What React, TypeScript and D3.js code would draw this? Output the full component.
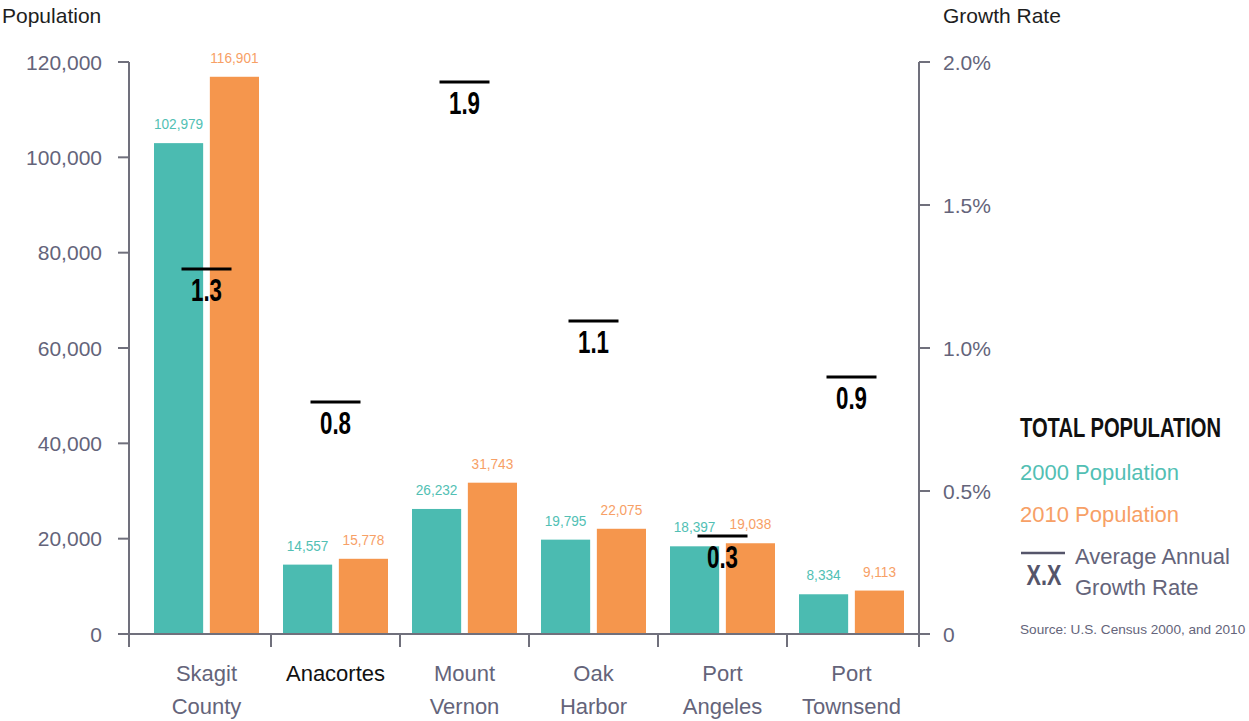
import React from "react";
import * as d3 from "d3";

const categories = ["Skagit County", "Anacortes", "Mount Vernon", "Oak Harbor", "Port Angeles", "Port Townsend"];
const pop2000 = [102979, 14557, 26232, 19795, 18397, 8334];
const pop2010 = [116901, 15778, 31743, 22075, 19038, 9113];
const growthRate = [1.276, 0.811, 1.93, 1.094, 0.343, 0.899];
const popTicks = [0, 20000, 40000, 60000, 80000, 100000, 120000];
const rateTicks = [0, 0.5, 1.0, 1.5, 2.0];
const seriesKeys = ["2000", "2010"];

const TEAL = "#4bbbb1";
const ORANGE = "#f5964d";
const TEAL_TXT = "#52bfb4";
const ORANGE_TXT = "#f7a066";
const AXIS = "#70707c";
const GRAY_TXT = "#64647a";
const SANS = "'Liberation Sans', Arial, sans-serif";

export default function App() {
  const y = d3.scaleLinear().domain([0, 120000]).range([634, 62]);
  const yr = d3.scaleLinear().domain([0, 2]).range([634, 62]);
  const x0 = d3.scaleBand<string>().domain(categories).range([142, 916]);
  const x1 = d3.scaleBand<string>().domain(seriesKeys).range([12, 117]).paddingInner(0.12);
  const fmt = d3.format(",");
  const left = 129;
  const right = 919;
  const base = y(0);

  const boundaries = categories.map((c) => x0(c)!).concat([right]);

  return (
    <svg
      width={1249}
      height={721}
      style={{ position: "absolute", left: 0, top: 0, display: "block", background: "#fff" }}
      fontFamily={SANS}
    >
      {/* titles */}
      <text x={2} y={23} fontSize={21} fill="#1e1e1e">Population</text>
      <text x={943} y={23} fontSize={21} fill="#1e1e1e">Growth Rate</text>

      {/* left axis */}
      <line x1={left} x2={left} y1={y(120000)} y2={base + 13} stroke={AXIS} strokeWidth={2} />
      {popTicks.map((t) => (
        <g key={"lt" + t}>
          <line x1={left - 11} x2={left} y1={y(t)} y2={y(t)} stroke={AXIS} strokeWidth={2} />
          <text x={102} y={y(t)} dy="0.36em" textAnchor="end" fontSize={21} fill={GRAY_TXT}>
            {fmt(t)}
          </text>
        </g>
      ))}

      {/* right axis */}
      <line x1={right} x2={right} y1={yr(2)} y2={base + 13} stroke={AXIS} strokeWidth={2} />
      {rateTicks.map((t) => (
        <g key={"rt" + t}>
          <line x1={right} x2={right + 11} y1={yr(t)} y2={yr(t)} stroke={AXIS} strokeWidth={2} />
          <text x={943} y={yr(t)} dy="0.36em" fontSize={21} fill={GRAY_TXT}>
            {t === 0 ? "0" : t.toFixed(1) + "%"}
          </text>
        </g>
      ))}

      {/* bars */}
      {categories.map((c, i) => {
        const vals = [pop2000[i], pop2010[i]];
        return (
          <g key={c} transform={`translate(${x0(c)},0)`}>
            {seriesKeys.map((k, j) => {
              const bx = x1(k)!;
              const bw = x1.bandwidth();
              const top = y(vals[j]);
              return (
                <g key={k}>
                  <rect x={bx} y={top} width={bw} height={base - top} fill={j === 0 ? TEAL : ORANGE} />
                  <text
                    transform={`translate(${bx + bw / 2},${top - 14}) scale(0.88,1)`}
                    textAnchor="middle"
                    fontSize={15.5}
                    fill={j === 0 ? TEAL_TXT : ORANGE_TXT}
                  >
                    {fmt(vals[j])}
                  </text>
                </g>
              );
            })}
          </g>
        );
      })}

      {/* x axis */}
      <line x1={left} x2={right + 11} y1={base} y2={base} stroke={AXIS} strokeWidth={2} />
      {boundaries.slice(1).map((b, i) => (
        <line key={"xt" + i} x1={b} x2={b} y1={base} y2={base + 13} stroke={AXIS} strokeWidth={2} />
      ))}
      {categories.map((c, i) => {
        const cx = x0(c)! + x0.bandwidth() / 2;
        const lines = c.split(" ");
        return (
          <text key={"xl" + c} x={cx} textAnchor="middle" fontSize={22} fill={i === 1 ? "#111" : GRAY_TXT}>
            {lines.map((l, k) => (
              <tspan key={k} x={cx} y={681 + k * 33}>
                {l}
              </tspan>
            ))}
          </text>
        );
      })}

      {/* growth rate markers */}
      {categories.map((c, i) => {
        const cx = x0(c)! + x0.bandwidth() / 2;
        const ly = yr(growthRate[i]);
        return (
          <g key={"gr" + c}>
            <line x1={cx - 25} x2={cx + 25} y1={ly} y2={ly} stroke="#000" strokeWidth={3} />
            <text
              transform={`translate(${cx},${ly + 32}) scale(0.72,1)`}
              textAnchor="middle"
              fontSize={31}
              fontWeight="bold"
              fill="#000"
            >
              {growthRate[i].toFixed(1)}
            </text>
          </g>
        );
      })}

      {/* legend */}
      <text transform="translate(1020,437) scale(0.72,1)" fontSize={28} fontWeight="bold" fill="#111">
        TOTAL POPULATION
      </text>
      <text x={1020} y={480} fontSize={22} fill={TEAL_TXT}>2000 Population</text>
      <text x={1020} y={522} fontSize={22} fill={ORANGE_TXT}>2010 Population</text>
      <line x1={1021} x2={1065} y1={553} y2={553} stroke="#55556a" strokeWidth={2.5} />
      <text transform="translate(1044,585) scale(0.72,1)" textAnchor="middle" fontSize={30} fontWeight="bold" fill="#55556a">
        X.X
      </text>
      <text x={1075} y={564} fontSize={22} fill={GRAY_TXT}>Average Annual</text>
      <text x={1075} y={595} fontSize={22} fill={GRAY_TXT}>Growth Rate</text>
      <text x={1020} y={634} fontSize={13.6} fill={GRAY_TXT}>Source: U.S. Census 2000, and 2010</text>
    </svg>
  );
}
